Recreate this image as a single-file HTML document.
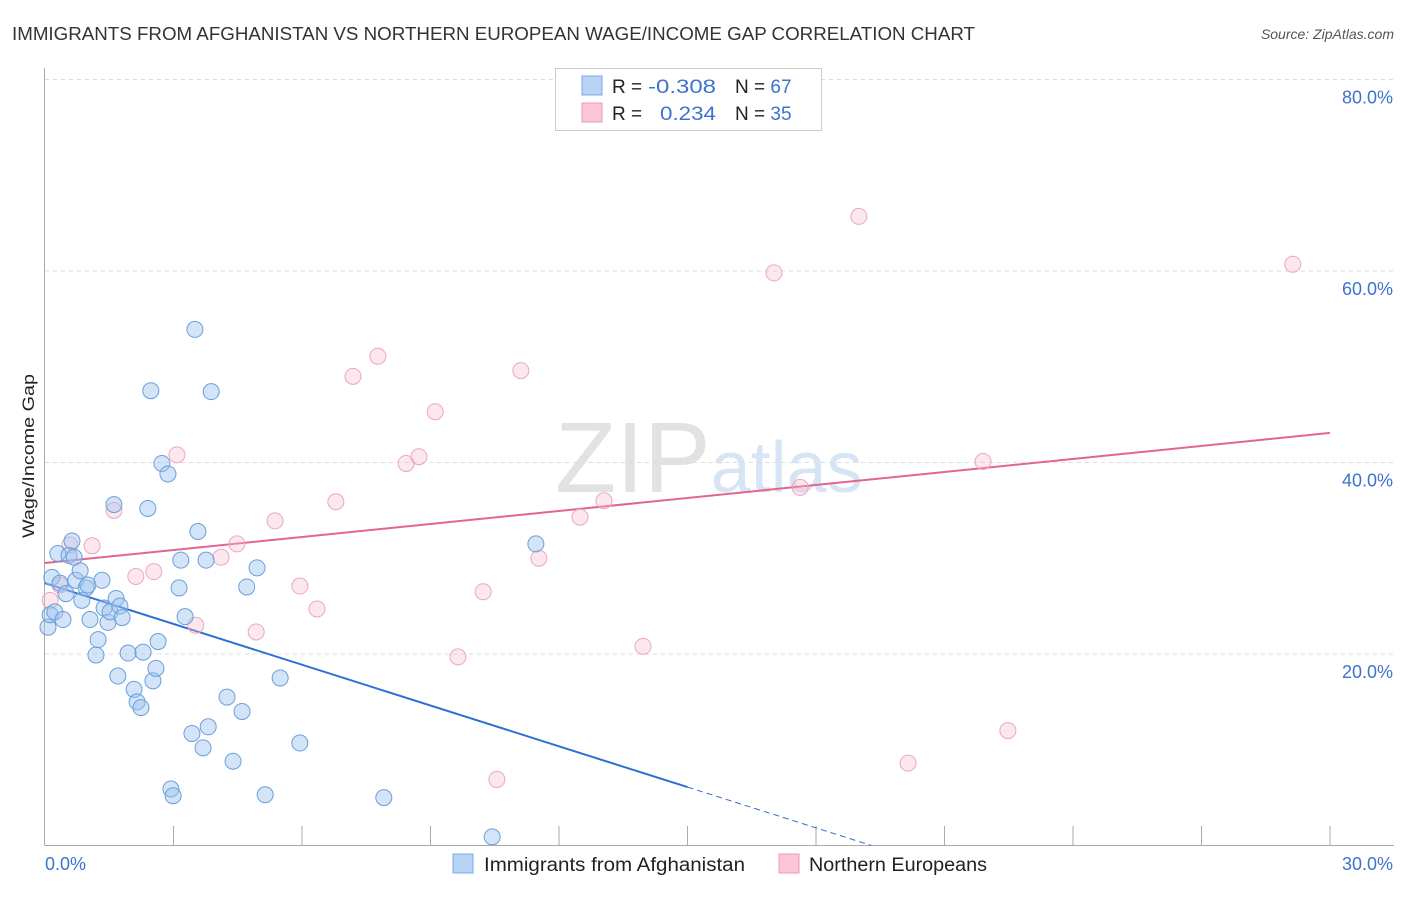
<!DOCTYPE html>
<html><head><meta charset="utf-8">
<style>
body{margin:0;background:#fff;font-family:"Liberation Sans",sans-serif;}
svg text{font-family:"Liberation Sans",sans-serif;}
</style></head>
<body>
<svg id="chart" width="1406" height="892" viewBox="0 0 1406 892" xmlns="http://www.w3.org/2000/svg">
<text x="12" y="40" font-size="18" fill="#333" textLength="963" lengthAdjust="spacingAndGlyphs">IMMIGRANTS FROM AFGHANISTAN VS NORTHERN EUROPEAN WAGE/INCOME GAP CORRELATION CHART</text>
<text x="1394" y="39" font-size="14" fill="#555" font-style="italic" text-anchor="end">Source: ZipAtlas.com</text>
<text x="555" y="492" font-size="100" fill="#d8d8d8" font-family="Liberation Serif"><tspan fill="#cfcfcf" opacity="0.6">ZIP</tspan><tspan fill="#bcd3ee" opacity="0.6" font-family="Liberation Sans" font-size="72">atlas</tspan></text>
<g id="grid"></g>
<g id="axes"></g>
<g id="trend"></g>
<g id="pts"></g>
<text transform="translate(34,456) rotate(-90)" font-size="17" fill="#222" text-anchor="middle" textLength="164" lengthAdjust="spacingAndGlyphs">Wage/Income Gap</text>
<g>
<rect x="555.5" y="68.5" width="266" height="62" fill="#fff" stroke="#ccc"/>
<rect x="582" y="76" width="20" height="19" fill="#b7d3f6" stroke="#7ea9e2"/>
<rect x="582" y="103" width="20" height="19" fill="#fcc6d6" stroke="#eb9ab5"/>
<text x="612" y="93" font-size="19" fill="#222">R =</text>
<text x="648" y="93" font-size="19" fill="#3d72d0" textLength="68" lengthAdjust="spacingAndGlyphs">-0.308</text>
<text x="735" y="93" font-size="19" fill="#222">N = <tspan fill="#3d72d0">67</tspan></text>
<text x="612" y="120" font-size="19" fill="#222">R =</text>
<text x="660" y="120" font-size="19" fill="#3d72d0" textLength="56" lengthAdjust="spacingAndGlyphs">0.234</text>
<text x="735" y="120" font-size="19" fill="#222">N = <tspan fill="#3d72d0">35</tspan></text>
</g>
<g>
<rect x="453" y="854" width="20" height="19" fill="#b7d3f6" stroke="#7ea9e2"/>
<text x="484" y="871" font-size="19" fill="#222" textLength="261" lengthAdjust="spacingAndGlyphs">Immigrants from Afghanistan</text>
<rect x="779" y="854" width="20" height="19" fill="#fcc6d6" stroke="#eb9ab5"/>
<text x="809" y="871" font-size="19" fill="#222" textLength="178" lengthAdjust="spacingAndGlyphs">Northern Europeans</text>
</g>
</svg>
<script>
const xTicks=[0,30];
const yTicks=[20,40,60,80];
const blueX=[0.07,0.12,0.16,0.23,0.30,0.35,0.42,0.49,0.56,0.63,0.68,0.72,0.82,0.86,0.96,1.00,1.05,1.19,1.24,1.33,1.38,1.47,1.52,1.61,1.66,1.70,1.75,1.80,1.94,2.08,2.15,2.24,2.29,2.40,2.47,2.52,2.59,2.64,2.73,2.87,2.94,2.99,3.13,3.17,3.27,3.43,3.50,3.57,3.69,3.76,3.81,3.88,4.25,4.39,4.60,4.71,4.95,5.14,5.49,5.95,7.91,10.44,11.46];
const blueY=[22.8,24.1,28.0,24.4,30.5,27.4,23.6,26.3,30.3,31.8,30.1,27.7,28.7,25.6,26.9,27.2,23.6,19.9,21.5,27.7,24.8,23.3,24.4,35.6,25.8,17.7,25.0,23.8,20.1,16.3,15.0,14.4,20.2,35.2,47.5,17.2,18.5,21.3,39.9,38.8,5.9,5.2,26.9,29.8,23.9,11.7,53.9,32.8,10.2,29.8,12.4,47.4,15.5,8.8,14.0,27.0,29.0,5.3,17.5,10.7,5.0,0.9,31.5];
const pinkX=[0.12,0.35,0.58,1.10,1.61,2.12,2.54,3.08,3.52,4.11,4.48,4.93,5.37,5.95,6.35,6.79,7.19,7.77,8.43,8.73,9.11,9.64,10.23,10.55,11.11,11.53,12.49,13.05,13.96,17.02,17.63,19.00,20.15,21.90,22.48,29.13];
const pinkY=[25.6,27.2,31.4,31.3,35.0,28.1,28.6,40.8,23.0,30.1,31.5,22.3,33.9,27.1,24.7,35.9,49.0,51.1,39.9,40.6,45.3,19.7,26.5,6.9,49.6,30.0,34.3,36.0,20.8,59.8,37.4,65.7,8.6,40.1,12.0,60.7];
const blueTrend=[27.4,-1.42];
const pinkTrend=[29.5,0.453];
const NS="http://www.w3.org/2000/svg";
const X0=45,X1=1330,Y0=845.5,Y80=79.5;
const sx=v=>X0+(v/30)*(X1-X0);
const sy=v=>Y0-(v/80)*(Y0-Y80);
function mk(t,a,p){const e=document.createElementNS(NS,t);for(const k in a)e.setAttribute(k,a[k]);p.appendChild(e);return e;}
const grid=document.getElementById('grid'),axes=document.getElementById('axes');
yTicks.forEach(v=>{
 const l=mk('line',{x1:X0,x2:1394,y1:sy(v),y2:sy(v),stroke:'#ddd','stroke-dasharray':'4,4'},grid);
 
 
 const t=mk('text',{x:1393,y:sy(v)+24,'font-size':18,fill:'#3d72d0','text-anchor':'end'},axes);
 t.textContent=v.toFixed(1)+'%';
 
 
});
mk('line',{x1:44.5,x2:44.5,y1:68,y2:845.5,stroke:'#aaa'},axes);
mk('line',{x1:44.5,x2:1394,y1:845.5,y2:845.5,stroke:'#aaa'},axes);
for(let i=1;i<=10;i++){const x=sx(i*3);mk('line',{x1:x,x2:x,y1:826,y2:845.5,stroke:'#aaa'},axes);}
xTicks.forEach((v,i)=>{
 const t=mk('text',{x:i==0?45:1393,y:870,'font-size':18,fill:'#3d72d0','text-anchor':i==0?'start':'end'},axes);
 t.textContent=v.toFixed(1)+'%';
 
 
});
const pts=document.getElementById('pts');
pinkX.forEach((x,i)=>{
 const c=mk('circle',{cx:sx(x),cy:sy(pinkY[i]),r:8,fill:'rgba(248,185,205,0.35)',stroke:'#eba7be','stroke-width':1},pts);
 
 
});
blueX.forEach((x,i)=>{
 const c=mk('circle',{cx:sx(x),cy:sy(blueY[i]),r:8,fill:'rgba(160,196,240,0.45)',stroke:'#6a9fd8','stroke-width':1},pts);
 
 
});
const tr=document.getElementById('trend');
const bz=-blueTrend[0]/blueTrend[1];
const b1=mk('line',{x1:sx(0),y1:sy(blueTrend[0]),x2:sx(15),y2:sy(blueTrend[0]+blueTrend[1]*15),stroke:'#2e6fd6','stroke-width':2},tr);


const b2=mk('line',{x1:sx(15),y1:sy(blueTrend[0]+blueTrend[1]*15),x2:sx(bz),y2:sy(0),stroke:'#2e6fd6','stroke-width':1,'stroke-dasharray':'6,4'},tr);


const p1=mk('line',{x1:sx(0),y1:sy(pinkTrend[0]),x2:sx(30),y2:sy(pinkTrend[0]+pinkTrend[1]*30),stroke:'#e3658f','stroke-width':2},tr);


</script>
</body></html>
